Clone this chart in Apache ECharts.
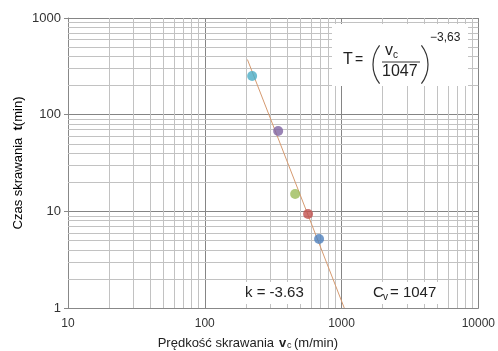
<!DOCTYPE html>
<html><head><meta charset="utf-8">
<script src="https://cdn.jsdelivr.net/npm/echarts@6/dist/echarts.min.js"></script>
<style>html,body{margin:0;padding:0;background:#fff}#c{width:498px;height:351px}</style>
</head><body><div id="c"></div>
<script>
// measured points: cutting speed vc (m/min) vs tool life T (min)
const speeds = [222, 344, 458, 569, 685];
const times = [251, 67.7, 15.1, 9.4, 5.17];
const pointColors = ['#4bacc6', '#8064a2', '#9bbb59', '#c0504d', '#4f81bd'];
// Taylor trend line end points
const trendSpeeds = [205, 1047];
const trendTimes = [372, 1];
// minor grid values (log axes)
const xMinor = [20, 30, 40, 50, 60, 70, 80, 90, 200, 300, 400, 500, 600, 700, 800, 900, 2000, 3000, 4000, 5000, 6000, 7000, 8000, 9000];
const yMinor = [2, 3, 4, 5, 6, 7, 8, 9, 20, 30, 40, 50, 60, 70, 80, 90, 200, 300, 400, 500, 600, 700, 800, 900];
const xTickLabels = ['10', '100', '1000', '10000'];
const yTickLabels = ['1', '10', '100', '1000'];

const FONT = 'Liberation Sans, Arial, sans-serif';
const chart = echarts.init(document.getElementById('c'), null, {renderer: 'canvas'});

const minorLines = [].concat(
  xMinor.map(v => ({xAxis: v})),
  yMinor.map(v => ({yAxis: v}))
);

function txt(text, x, y, size, opts) {
  return Object.assign({
    type: 'text', z: 10, x: x, y: y,
    style: Object.assign({text: text, fill: '#222', font: size + 'px ' + FONT, textAlign: 'left', textVerticalAlign: 'middle'}, (opts && opts.style) || {})
  }, (opts && opts.el) || {});
}

const option = {
  backgroundColor: '#fff',
  animation: false,
  grid: {left: 68, right: 18, top: 18, bottom: 43},
  xAxis: {
    type: 'log', logBase: 10, min: 10, max: 10000,
    axisLine: {show: true, lineStyle: {color: '#888'}},
    axisTick: {show: false},
    axisLabel: {color: '#333', fontSize: 12, fontFamily: FONT, margin: 10,
      formatter: v => xTickLabels.find(t => Number(t) === Math.round(v)) || ''},
    splitLine: {show: true, lineStyle: {color: '#858585', width: 1}}
  },
  yAxis: {
    type: 'log', logBase: 10, min: 1, max: 1000,
    axisLine: {show: true, lineStyle: {color: '#888'}},
    axisTick: {show: true, length: 4, lineStyle: {color: '#888'}},
    axisLabel: {color: '#333', fontSize: 13, fontFamily: FONT, margin: 7,
      formatter: v => yTickLabels.find(t => Number(t) === Math.round(v)) || ''},
    splitLine: {show: true, lineStyle: {color: '#858585', width: 1}}
  },
  series: [
    {
      type: 'line', z: 1, data: [], symbol: 'none', silent: true,
      markLine: {
        z: 1, silent: true, symbol: ['none', 'none'], animation: false,
        label: {show: false},
        lineStyle: {color: '#c2c2c2', width: 1, type: 'solid'},
        emphasis: {disabled: true},
        data: minorLines
      }
    },
    {
      type: 'line', z: 3, symbol: 'none',
      data: trendSpeeds.map((v, i) => [v, trendTimes[i]]),
      lineStyle: {color: '#d59a70', width: 1}
    },
    {
      type: 'scatter', z: 4, symbolSize: 10,
      data: speeds.map((v, i) => ({value: [v, times[i]], itemStyle: {color: pointColors[i]}}))
    }
  ],
  graphic: [
    // white boxes
    {type: 'rect', z: 2, shape: {x: 332, y: 24, width: 136, height: 62}, style: {fill: '#fff'}},
    {type: 'rect', z: 2, shape: {x: 240, y: 282, width: 70, height: 22}, style: {fill: '#fff'}},
    {type: 'rect', z: 2, shape: {x: 367, y: 282, width: 76, height: 22}, style: {fill: '#fff'}},
    // formula
    txt('T', 343, 60, 16),
    txt('=', 355, 60, 14),
    {type: 'arc', z: 10, shape: {cx: 404, cy: 64.5, r: 31, startAngle: Math.PI * 142 / 180, endAngle: Math.PI * 218 / 180}, style: {stroke: '#333', lineWidth: 1.2, fill: null}},
    {type: 'arc', z: 10, shape: {cx: 397, cy: 64.5, r: 31, startAngle: -Math.PI * 38 / 180, endAngle: Math.PI * 38 / 180}, style: {stroke: '#333', lineWidth: 1.2, fill: null}},
    txt('v', 385, 51, 16),
    txt('c', 393, 55, 10),
    {type: 'line', z: 10, shape: {x1: 382, y1: 62, x2: 420, y2: 62}, style: {stroke: '#333', lineWidth: 1}},
    txt('1047', 382, 72, 16),
    txt('\u22123,63', 430, 38, 12),
    // bottom annotations
    txt('k = -3.63', 245, 293, 15),
    txt('C', 373, 293, 15),
    txt('v', 383, 297, 10),
    txt('= 1047', 390, 293, 15),
    // axis titles
    {type: 'text', z: 10, x: 18, y: 163, rotation: Math.PI / 2,
      style: {text: '{n|Czas skrawania  }{b|t}{n|(min)}', textAlign: 'center', textVerticalAlign: 'middle',
        rich: {n: {fontSize: 13, fontFamily: FONT, color: '#222'}, b: {fontSize: 13, fontFamily: FONT, fontWeight: 'bold', color: '#222'}}}},
    txt('Prędkość skrawania', 274, 343, 13, {style: {textAlign: 'right'}}),
    txt('v', 279, 343, 13, {style: {font: 'bold 13px ' + FONT}}),
    txt('c', 287, 346, 9),
    txt('(m/min)', 294, 343, 13)
  ]
};
chart.setOption(option);
</script>
</body></html>
